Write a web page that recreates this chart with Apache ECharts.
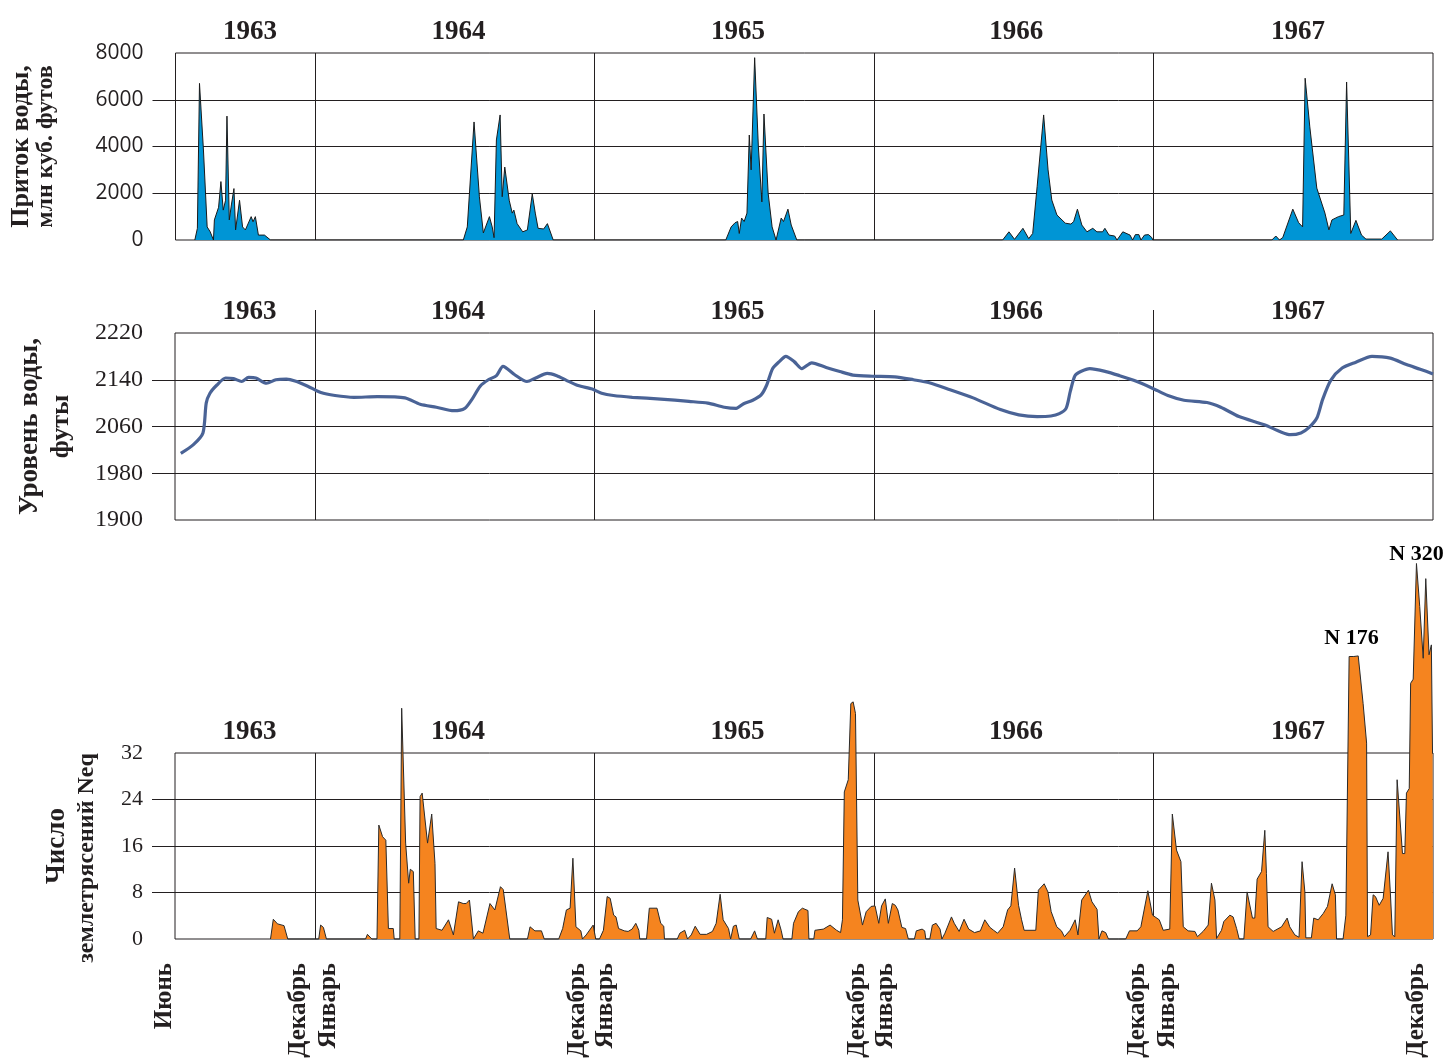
<!DOCTYPE html>
<html><head><meta charset="utf-8">
<script src="https://cdn.jsdelivr.net/npm/echarts@6/dist/echarts.min.js"></script>
<style>html,body{margin:0;padding:0;background:#fff}#c{width:1447px;height:1061px}</style>
</head><body><div id="c"></div>
<script>
// x values are months counted from the left edge of the plots (1 July 1963)
const yearLabels = ['1963', '1964', '1965', '1966', '1967'];
const yearLabelMonths = [3.2, 12.15, 24.15, 36.1, 48.2];
const yearBoundaryMonths = [6, 18, 30, 42];
const monthLabels = ['Июнь', 'Декабрь', 'Январь', 'Декабрь', 'Январь', 'Декабрь', 'Январь', 'Декабрь', 'Январь', 'Декабрь'];
const monthLabelMonths = [-0.45, 5.3, 6.6, 17.3, 18.5, 29.3, 30.5, 41.3, 42.6, 53.3];
const inflowTicks = [0, 2000, 4000, 6000, 8000];
const levelTicks = [1900, 1980, 2060, 2140, 2220];
const quakeTicks = [0, 8, 16, 24, 32];

const inflowPoints = [
  [0.83,0],[0.94,500],[1.03,6700],[1.20,3850],[1.36,560],[1.49,350],[1.63,0],[1.67,860],[1.85,1400],[1.95,2500],[2.05,1280],[2.15,1700],[2.21,5300],[2.31,860],[2.40,1500],[2.51,2200],[2.58,430],[2.75,1700],[2.88,560],[3.00,430],[3.25,1000],[3.33,780],[3.43,1000],[3.56,210],[3.82,210],[4.08,0],
  [12.36,0],[12.53,560],[12.82,5050],[13.05,1850],[13.22,300],[13.48,1000],[13.60,560],[13.68,100],[13.78,4280],[13.94,5350],[14.03,1850],[14.14,3120],[14.33,1700],[14.46,1150],[14.53,1280],[14.67,700],[14.91,350],[15.11,430],[15.32,1970],[15.45,1150],[15.57,500],[15.81,470],[15.97,700],[16.22,0],
  [23.63,0],[23.86,560],[24.03,740],[24.14,790],[24.21,280],[24.31,940],[24.42,790],[24.54,1150],[24.64,4490],[24.72,3000],[24.87,7800],[25.03,3990],[25.18,1630],[25.27,5390],[25.45,2000],[25.62,560],[25.79,0],[26.01,940],[26.11,790],[26.30,1320],[26.44,640],[26.68,0],
  [35.52,0],[35.79,350],[36.03,30],[36.39,500],[36.64,60],[36.81,280],[37.00,2280],[37.28,5350],[37.47,3000],[37.63,1710],[37.85,1070],[38.21,720],[38.45,680],[38.57,790],[38.73,1320],[38.92,640],[39.14,350],[39.39,500],[39.57,350],[39.81,350],[39.91,500],[40.09,210],[40.33,170],[40.43,0],[40.68,350],[40.99,210],[41.10,0],[41.22,230],[41.37,230],[41.46,0],[41.61,210],[41.78,230],[41.92,110],[41.97,0],
  [47.08,0],[47.25,170],[47.41,0],[47.55,110],[47.98,1320],[48.23,740],[48.40,560],[48.51,6920],[48.71,4840],[49.01,2220],[49.36,1150],[49.53,430],[49.66,860],[49.94,1000],[50.17,1070],[50.29,6760],[50.47,280],[50.69,840],[50.93,210],[51.12,40],[51.80,40],[52.17,390],[52.48,0]
];

const levelPoints = [
  [0.25,2014],[0.79,2029],[1.20,2049],[1.34,2100],[1.50,2117],[1.80,2131],[2.17,2143],[2.51,2142],[2.86,2137],[3.16,2144],[3.47,2143],[3.93,2134],[4.33,2140],[4.78,2141],[5.15,2138],[5.70,2129],[6.26,2118],[6.87,2113],[7.68,2110],[8.69,2111],[9.87,2109],[10.52,2098],[11.22,2093],[11.97,2087],[12.44,2091],[12.74,2106],[13.10,2129],[13.45,2140],[13.80,2147],[14.08,2163],[14.57,2149],[15.11,2137],[15.48,2143],[15.98,2151],[16.39,2147],[16.80,2139],[17.30,2130],[17.91,2124],[18.31,2117],[18.82,2113],[19.63,2110],[20.85,2107],[22.06,2103],[22.87,2100],[23.58,2093],[24.09,2091],[24.41,2099],[24.80,2105],[25.16,2114],[25.40,2131],[25.65,2159],[25.94,2171],[26.22,2180],[26.58,2171],[26.91,2159],[27.33,2169],[27.95,2161],[28.54,2154],[29.10,2148],[29.92,2146],[30.90,2145],[31.70,2140],[32.38,2135],[33.27,2123],[34.26,2109],[35.43,2089],[36.22,2080],[37.01,2077],[37.60,2078],[37.96,2082],[38.25,2091],[38.43,2120],[38.63,2147],[38.88,2154],[39.27,2159],[39.96,2154],[40.55,2147],[41.15,2139],[41.93,2126],[42.62,2113],[43.31,2105],[44.30,2101],[44.89,2093],[45.67,2077],[46.76,2063],[47.45,2051],[47.88,2046],[48.33,2049],[48.67,2058],[49.02,2075],[49.26,2106],[49.61,2139],[50.10,2160],[50.69,2170],[51.38,2180],[52.17,2177],[52.86,2166],[53.45,2158],[54.00,2150]
];

const quakePoints = [
  [4.10,0],[4.22,3.4],[4.40,2.6],[4.68,2.3],[4.84,0],
  [6.17,0],[6.25,2.4],[6.37,2.0],[6.50,0],
  [8.18,0],[8.26,0.8],[8.34,1.1],[8.45,0],
  [8.67,0],[8.75,19.6],[8.91,17.6],[9.05,17.0],[9.16,1.8],[9.37,1.8],[9.41,0],
  [9.65,0],[9.73,39.7],[9.90,16.5],[10.03,9.6],[10.10,12.0],[10.23,11.6],[10.31,0],
  [10.47,0],[10.52,24.5],[10.61,25.1],[10.84,16.5],[11.02,21.5],[11.16,13.0],[11.21,1.8],[11.46,1.5],[11.74,3.3],[11.95,0.7],[12.03,0.7],[12.17,6.4],[12.37,6.1],[12.50,6.1],[12.64,6.7],[12.81,0],
  [13.02,1.4],[13.22,1.0],[13.52,6.1],[13.73,5.0],[13.97,9.0],[14.09,8.5],[14.37,0],
  [15.13,0],[15.24,2.1],[15.45,1.4],[15.73,1.4],[15.85,0],
  [16.47,0],[16.64,1.8],[16.80,5.0],[16.96,5.3],[17.08,13.9],[17.21,2.1],[17.42,1.4],[17.49,0],[17.65,0.7],[17.95,2.4],[18.06,0],
  [18.22,0],[18.39,1.5],[18.55,7.3],[18.68,7.0],[18.83,4.1],[18.93,3.8],[19.04,1.8],[19.29,1.4],[19.45,1.3],[19.62,1.7],[19.78,2.7],[19.91,1.5],[19.95,0],
  [20.24,0],[20.36,5.3],[20.69,5.3],[20.85,2.7],[20.98,2.2],[21.01,0],
  [21.56,0],[21.67,1.0],[21.88,1.5],[22.00,0],[22.16,0.7],[22.33,2.2],[22.54,0.8],[22.82,0.8],[23.07,1.3],[23.23,2.7],[23.40,7.7],[23.53,3.3],[23.76,1.8],[23.85,0],[23.97,2.2],[24.09,2.4],[24.22,0],
  [24.71,0],[24.88,1.4],[25.00,0],
  [25.36,0],[25.42,3.7],[25.61,3.4],[25.73,1.0],[25.89,3.3],[26.02,1.5],[26.10,0],
  [26.48,0],[26.55,2.7],[26.76,4.7],[26.93,5.3],[27.17,4.9],[27.21,0],
  [27.42,0],[27.47,1.5],[27.83,1.7],[28.12,2.4],[28.40,1.5],[28.57,1.1],[28.65,3.3],[28.73,25.3],[28.90,27.4],[29.01,40.5],[29.11,40.8],[29.21,38.8],[29.31,6.7],[29.39,6.4],[29.51,2.4],[29.67,4.7],[29.88,5.6],[30.05,5.7],[30.21,2.7],[30.33,5.7],[30.49,6.9],[30.62,2.7],[30.79,6.1],[30.92,5.8],[31.03,5.0],[31.20,2.0],[31.36,1.8],[31.48,0],
  [31.74,0],[31.82,1.4],[32.07,1.7],[32.18,1.4],[32.23,0],
  [32.40,0],[32.51,2.4],[32.67,2.7],[32.84,1.7],[32.92,0],[33.05,1.0],[33.33,3.8],[33.45,2.7],[33.66,1.3],[33.87,3.4],[34.07,1.7],[34.32,1.1],[34.57,1.4],[34.76,3.3],[34.98,2.0],[35.14,1.5],[35.31,1.0],[35.55,2.1],[35.74,5.0],[35.88,5.7],[36.04,12.2],[36.21,5.8],[36.34,3.3],[36.45,1.5],[36.95,1.5],[37.06,8.4],[37.31,9.5],[37.47,8.1],[37.61,4.7],[37.85,2.1],[38.05,1.4],[38.18,0.4],[38.42,1.5],[38.64,3.3],[38.76,0.7],[38.92,6.7],[39.21,8.4],[39.36,6.4],[39.58,5.1],[39.66,0],[39.79,1.4],[39.95,1.1],[40.07,0],
  [40.81,0],[40.97,1.4],[41.30,1.4],[41.46,2.1],[41.76,8.3],[41.96,4.1],[42.25,3.3],[42.42,1.5],[42.70,1.7],[42.81,21.5],[42.99,15.3],[43.18,13.3],[43.28,2.1],[43.49,1.4],[43.78,1.3],[43.89,0.4],[44.13,1.3],[44.35,2.4],[44.49,9.6],[44.64,6.7],[44.71,0.1],[44.92,1.5],[45.02,3.0],[45.28,4.1],[45.42,3.8],[45.57,1.8],[45.68,0],
  [45.88,0],[46.02,8.1],[46.25,3.6],[46.35,3.6],[46.45,10.3],[46.64,11.6],[46.78,18.7],[46.85,11.3],[46.92,2.1],[47.14,1.3],[47.50,2.1],[47.74,3.6],[47.85,2.1],[48.07,0.7],[48.25,0.3],[48.38,13.3],[48.50,8.1],[48.54,0.2],[48.78,0.2],[48.88,3.6],[49.07,3.3],[49.29,4.4],[49.47,5.6],[49.67,9.5],[49.81,7.6],[49.86,0],
  [50.14,0],[50.26,4.1],[50.40,48.6],[50.60,48.6],[50.79,48.7],[51.00,40.5],[51.15,33.7],[51.19,0.4],[51.32,0.7],[51.43,7.6],[51.53,7.3],[51.69,5.8],[51.86,7.0],[51.93,7.3],[52.07,15.0],[52.17,7.9],[52.26,0.7],[52.36,0.4],[52.46,27.4],[52.69,14.7],[52.79,14.7],[52.86,25.1],[52.98,25.9],[53.04,44.0],[53.15,44.7],[53.29,64.6],[53.43,57.2],[53.58,48.3],[53.69,62.0],[53.83,48.9],[53.93,50.6],[53.98,31.9],[54.00,31.9]
];

// annotations of the two off-scale peaks (true counts)
const peakNoteTexts = ['N 176', 'N 320'];
const peakNoteMonths = [50.5, 53.29];
const peakNoteValues = [48.6, 64.6];

const INK = '#231f20';
const SERIF = 'Liberation Serif';
const PLOT_LEFT = 175, PLOT_RIGHT = 14, MONTHS = 54;
const monthPx = (1447 - PLOT_LEFT - PLOT_RIGHT) / MONTHS;

function pick(list, vals, v) {
  const i = vals.findIndex(x => Math.abs(x - v) < 1e-6);
  return i >= 0 ? list[i] : '';
}

function yearAxis(gi) {
  return {
    type: 'value', gridIndex: gi, position: 'top', min: 0, max: MONTHS,
    axisLine: {show: false},
    axisTick: {show: true, customValues: yearBoundaryMonths, length: 23, inside: false, lineStyle: {color: INK, width: 1}},
    axisLabel: {show: true, customValues: yearLabelMonths, formatter: v => pick(yearLabels, yearLabelMonths, v),
      margin: 7, fontFamily: SERIF, fontWeight: 'bold', fontSize: 27, color: INK},
    splitLine: {show: true, lineStyle: {color: INK, width: 1}}
  };
}

function valueAxis(gi, ticks, labelFont, name, rich, nameGap) {
  return {
    type: 'value', gridIndex: gi, min: ticks[0], max: ticks[ticks.length - 1],
    axisLine: {show: false},
    axisTick: {show: true, customValues: ticks.slice(1, -1), length: 23, inside: false, lineStyle: {color: INK, width: 1}},
    axisLabel: Object.assign({customValues: ticks, margin: 32, color: INK, formatter: v => String(v)}, labelFont),
    splitLine: {show: true, lineStyle: {color: INK, width: 1}},
    name: name, nameLocation: 'middle', nameRotate: 90, nameGap: nameGap,
    nameTextStyle: {rich: rich}
  };
}

const bold = (size, lh, extra) => Object.assign({fontFamily: SERIF, fontWeight: 'bold', fontSize: size, lineHeight: lh, color: INK}, extra || {});

const gridBase = {left: PLOT_LEFT, right: PLOT_RIGHT, show: true, borderColor: INK, borderWidth: 1, backgroundColor: 'transparent'};

const option = {
  animation: false,
  backgroundColor: '#fff',
  grid: [
    Object.assign({top: 53, height: 187}, gridBase),
    Object.assign({top: 333, height: 187}, gridBase),
    Object.assign({top: 753, height: 186}, gridBase),
    {left: PLOT_LEFT - monthPx, right: PLOT_RIGHT, top: 939, height: 1, show: false}
  ],
  xAxis: [
    yearAxis(0), yearAxis(1), yearAxis(2),
    {
      type: 'value', gridIndex: 3, position: 'bottom', min: -1, max: MONTHS,
      axisLine: {show: false}, axisTick: {show: false}, splitLine: {show: false},
      axisLabel: {show: true, customValues: monthLabelMonths, formatter: v => pick(monthLabels, monthLabelMonths, v),
        rotate: 90, margin: 23, fontFamily: SERIF, fontWeight: 'bold', fontSize: 25, color: INK}
    }
  ],
  yAxis: [
    valueAxis(0, inflowTicks, {fontFamily: 'Open Sans', fontSize: 21},
      '{a|Приток воды,}\n{b|млн куб. футов}', {a: bold(26, 25), b: bold(24, 25)}, 117),
    valueAxis(1, levelTicks, {fontFamily: SERIF, fontSize: 24},
      '{a|Уровень воды,}\n{b|футы}', {a: bold(27, 31), b: bold(26, 31)}, 98),
    valueAxis(2, quakeTicks, {fontFamily: SERIF, fontSize: 22},
      '{a|Число}\n{b|землетрясений Neq}', {a: bold(27, 30), b: bold(24, 30, {padding: [0, 24, 0, 0]})}, 73),
    {type: 'value', gridIndex: 3, min: 0, max: 1, show: false}
  ],
  series: [
    {
      type: 'line', xAxisIndex: 0, yAxisIndex: 0, data: inflowPoints, symbol: 'none',
      lineStyle: {color: '#1a1a1a', width: 1}, areaStyle: {color: '#0095d5', opacity: 1}, z: 3
    },
    {
      type: 'line', xAxisIndex: 1, yAxisIndex: 1, data: levelPoints, symbol: 'none', smooth: 0.25,
      lineStyle: {color: '#4a6396', width: 3.2}, z: 3
    },
    {
      type: 'line', xAxisIndex: 2, yAxisIndex: 2, data: quakePoints, symbol: 'none', clip: false,
      lineStyle: {color: '#2a2a2a', width: 1}, areaStyle: {color: '#f5841f', opacity: 1}, z: 3
    },
    {
      type: 'scatter', xAxisIndex: 2, yAxisIndex: 2, clip: false, silent: true, symbolSize: 0, z: 4,
      itemStyle: {color: INK, opacity: 1},
      data: peakNoteTexts.map((t, i) => ({
        value: [peakNoteMonths[i], peakNoteValues[i]], name: t,
        label: {distance: i === 0 ? 7 : -2}
      })),
      label: {show: true, position: 'top', formatter: p => p.name, opacity: 1,
        fontFamily: SERIF, fontWeight: 'bold', fontSize: 22, color: '#000'}
    },
    {
      type: 'line', xAxisIndex: 3, yAxisIndex: 3, data: [[0, 0]], symbol: 'none', silent: true,
      lineStyle: {opacity: 0}
    }
  ]
};

const chart = echarts.init(document.getElementById('c'), null, {renderer: 'canvas'});
chart.setOption(option);
</script>
</body></html>
